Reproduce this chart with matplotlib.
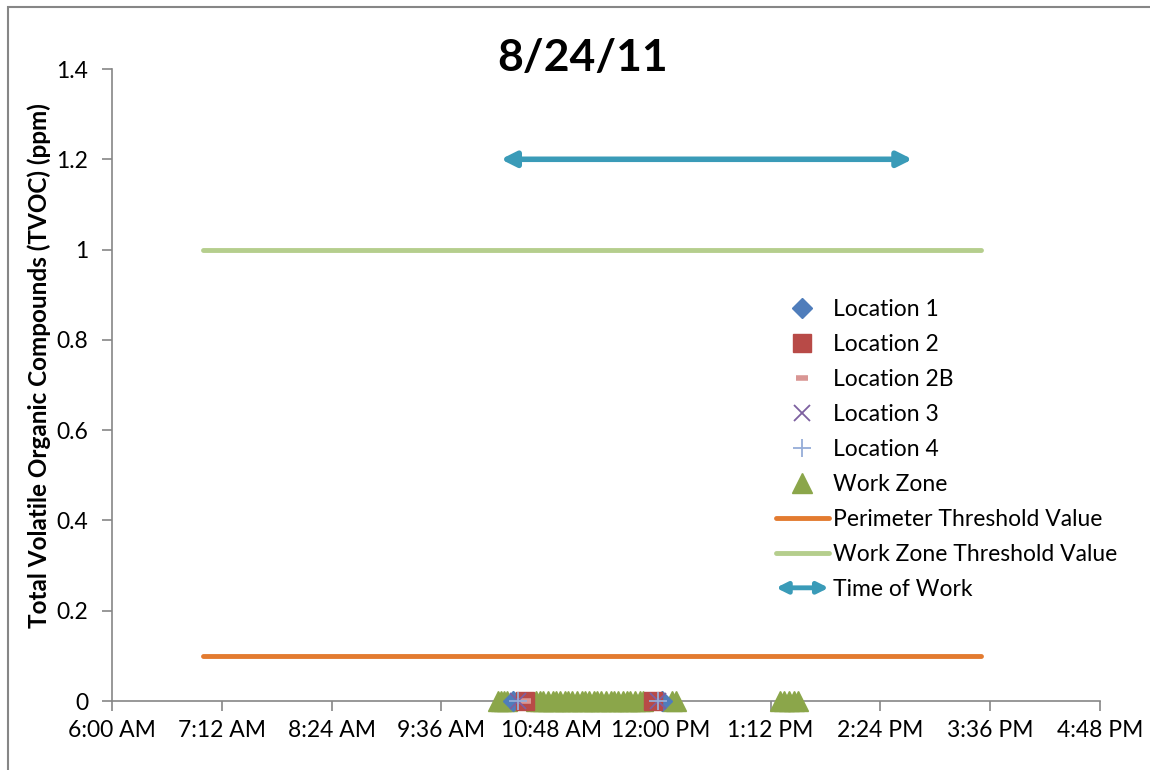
import datetime
import matplotlib
matplotlib.use("Agg")
import matplotlib.pyplot as plt
import matplotlib.dates as mdates
from matplotlib.patches import FancyArrowPatch
from matplotlib.legend_handler import HandlerPatch

plt.rcParams['font.family'] = ['Lato', 'DejaVu Sans']

# ---- data (all readings were 0 ppm) ----
day = "2011-08-24"
loc1_times = ["10:23", "12:01"]
loc2_times = ["10:31", "11:55"]
loc2b_times = ["10:31"]
loc3_times = ["10:26", "11:58"]
loc4_times = ["10:26", "11:58"]
work_zone_times = ["10:13", "10:15", "10:17", "10:19",
                   "10:38", "10:41", "10:43", "10:46", "10:49", "10:51", "10:54",
                   "10:57", "10:59", "11:02", "11:05", "11:08", "11:10", "11:13",
                   "11:16", "11:18", "11:21", "11:24", "11:27", "11:29", "11:32",
                   "11:35", "11:38", "11:40", "11:43", "11:46", "11:48",
                   "12:07", "12:10",
                   "13:18", "13:21", "13:24", "13:27", "13:30"]
threshold_span = ["07:00", "15:30"]
perimeter_threshold = 0.1
work_zone_threshold = 1.0
work_span = ["10:15", "14:45"]
work_level = 1.2

x_ticks = ["06:00", "07:12", "08:24", "09:36", "10:48", "12:00", "13:12", "14:24", "15:36", "16:48"]


def t(s):
    return datetime.datetime.strptime(f"{day} {s}", "%Y-%m-%d %H:%M")


def times(lst):
    return [t(s) for s in lst]


class HandlerArrow(HandlerPatch):
    def create_artists(self, legend, orig_handle, xdescent, ydescent,
                       width, height, fontsize, trans):
        p = FancyArrowPatch((-xdescent, height / 2 - ydescent),
                            (width - xdescent, height / 2 - ydescent),
                            arrowstyle="<|-|>", mutation_scale=16,
                            color=orig_handle.get_edgecolor(), lw=3.5,
                            shrinkA=0, shrinkB=0)
        p.set_transform(trans)
        return [p]


fig = plt.figure(figsize=(11.5, 7.7), dpi=100)
# chart border
fig.add_artist(plt.Rectangle((8 / 1150, -0.01), 1.2, 1 - 7 / 770 + 0.01, transform=fig.transFigure,
                             fill=False, edgecolor="#868686", lw=1.5))
ax = fig.add_axes([112 / 1150, 1 - 701 / 770, (1100 - 112) / 1150, (701 - 69) / 770])

grey = "#868686"
fs = 16.5
ms = 12
ax.plot(times(threshold_span), [perimeter_threshold] * 2, color="#E37B30", lw=3.5,
        solid_capstyle="round", label="Perimeter Threshold Value")
ax.plot(times(threshold_span), [work_zone_threshold] * 2, color="#B5CE8D", lw=3.5,
        solid_capstyle="round", label="Work Zone Threshold Value")

ax.plot(times(work_zone_times), [0] * len(work_zone_times), ls="none", marker="^",
        ms=ms + 2, color="#8BA64A", label="Work Zone", zorder=3, clip_on=False)
ax.plot(times(loc1_times), [0] * len(loc1_times), ls="none", marker="D", ms=ms - 2,
        color="#4F7DBB", label="Location 1", zorder=4, clip_on=False)
ax.plot(times(loc2_times), [0] * len(loc2_times), ls="none", marker="s", ms=ms + 0.5,
        color="#B84A47", label="Location 2", zorder=4, clip_on=False)
ax.plot(times(loc2b_times), [0] * len(loc2b_times), ls="none", marker="_", ms=ms - 4, mew=4,
        color="#D99694", label="Location 2B", zorder=4, clip_on=False)
ax.plot(times(loc3_times), [0] * len(loc3_times), ls="none", marker="x", ms=ms, mew=1.3,
        color="#7D60A0", label="Location 3", zorder=5, clip_on=False)
ax.plot(times(loc4_times), [0] * len(loc4_times), ls="none", marker="+", ms=ms + 1, mew=1.3,
        color="#95ADD8", label="Location 4", zorder=5, clip_on=False)

arrow_color = "#3A9BB8"
ax.annotate("", xy=(mdates.date2num(t(work_span[1])), work_level),
            xytext=(mdates.date2num(t(work_span[0])), work_level),
            arrowprops=dict(arrowstyle="<|-|>", color=arrow_color, lw=4,
                            mutation_scale=22, shrinkA=0, shrinkB=0))
arrow_handle = FancyArrowPatch((0, 0), (1, 1), color=arrow_color)

ax.set_xlim(t(x_ticks[0]), t(x_ticks[-1]))
ax.set_ylim(0, 1.4)
ax.set_xticks(times(x_ticks))
ax.xaxis.set_major_formatter(mdates.DateFormatter("%-I:%M %p"))
ax.set_yticks([0, 0.2, 0.4, 0.6, 0.8, 1, 1.2, 1.4])
ax.set_yticklabels(["0", "0.2", "0.4", "0.6", "0.8", "1", "1.2", "1.4"])

for s in ["top", "right"]:
    ax.spines[s].set_visible(False)
for s in ["left", "bottom"]:
    ax.spines[s].set_color(grey)
    ax.spines[s].set_linewidth(1.2)
ax.tick_params(axis="both", colors=grey, labelcolor="black", labelsize=fs, length=7, width=1.2)
ax.tick_params(axis="x", pad=7)
ax.tick_params(axis="y", pad=10)

ax.set_ylabel("Total Volatile Organic Compounds (TVOC) (ppm)", fontsize=17.5, fontweight="bold")
ax.yaxis.set_label_coords(-61 / 988, (701 - 366) / 632)
fig.text(583 / 1150, 1 - 58 / 770, "8/24/11", fontsize=32, fontweight="bold",
         ha="center", va="center")

handles, labels = ax.get_legend_handles_labels()
order = ["Location 1", "Location 2", "Location 2B", "Location 3", "Location 4",
         "Work Zone", "Perimeter Threshold Value", "Work Zone Threshold Value"]
h_map = dict(zip(labels, handles))
leg_handles = [h_map[k] for k in order] + [arrow_handle]
leg_labels = order + ["Time of Work"]
ax.legend(leg_handles, leg_labels, loc="upper left", bbox_to_anchor=(776 / 1150, 1 - 299 / 770),
          bbox_transform=fig.transFigure, frameon=False, fontsize=fs, labelspacing=0.61,
          handlelength=2.3, handletextpad=0.2, borderaxespad=0, borderpad=0,
          handler_map={FancyArrowPatch: HandlerArrow()})

fig.savefig("out.png", dpi=100)
